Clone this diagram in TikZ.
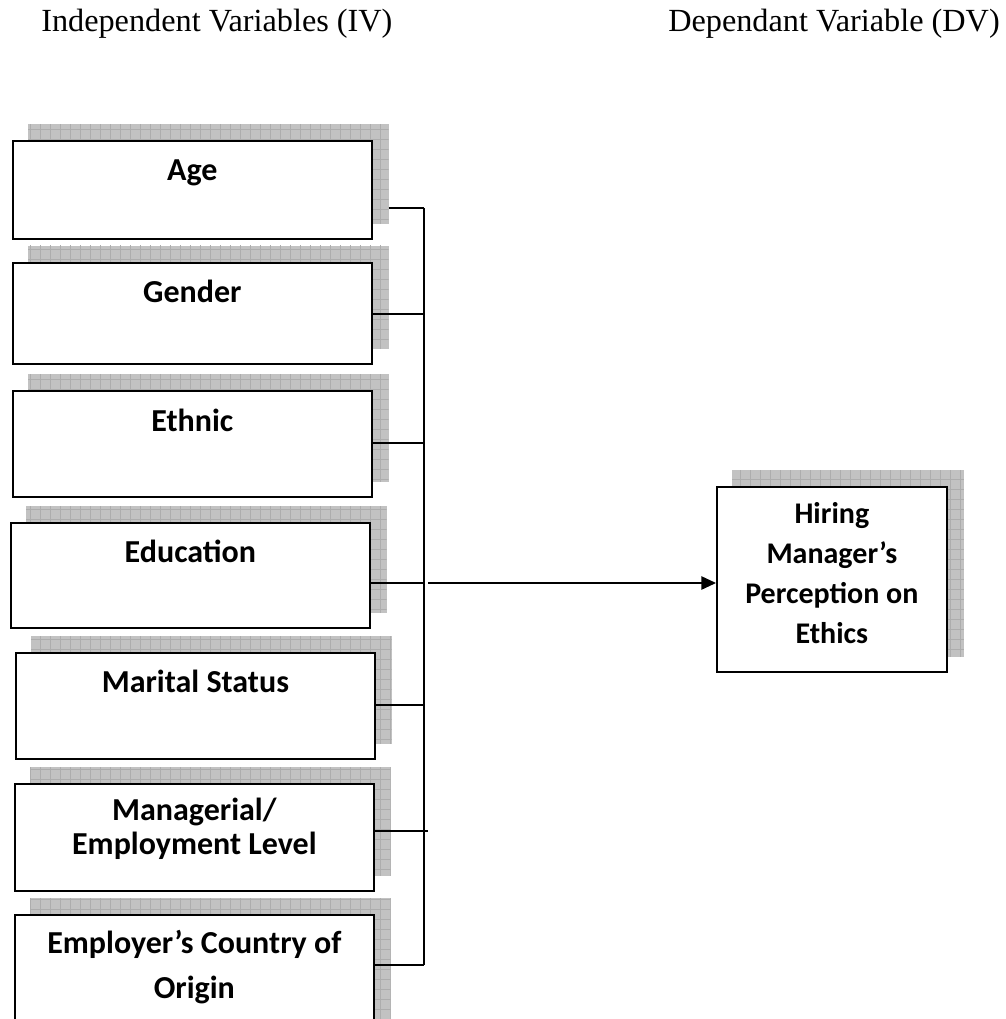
\documentclass[tikz,border=0pt]{standalone}
\usepackage{fontspec}
\setmainfont{Liberation Serif}
\newfontfamily\boxfont{Carlito}
\usetikzlibrary{positioning,arrows.meta,backgrounds,patterns.meta}

\tikzset{
    varbox/.style={draw, line width=1.3pt, fill=white, anchor=north west,
        minimum width=269.25pt, inner sep=0pt},
    vartext/.style={font=\boxfont\bfseries\fontsize{24}{25.5}\selectfont,
        align=center, inner sep=0pt, anchor=base},
    heading/.style={font=\fontsize{24.2}{28}\selectfont, inner sep=0pt, anchor=base west},
    shade/.style={fill=black!24,
        postaction={pattern={Lines[angle=0,distance=7.5pt,line width=0.5pt]}, pattern color=black!32},
        postaction={pattern={Lines[angle=90,distance=7.5pt,line width=0.5pt]}, pattern color=black!32}},
    link/.style={line width=1.2pt}
}

\begin{document}
\begin{tikzpicture}[x=0.75pt,y=-0.75pt]
    \useasboundingbox (0,0) rectangle (1005,1019);
    \clip (0,0) rectangle (1005,1019);

    \node[heading] (ivtitle) at (41,32) {Independent Variables (IV)};
    \node[heading] (dvtitle) at (668,32) {Dependant Variable (DV)};

    \foreach \name/\x/\y/\h in {age/12/140/98, gender/12/262/101, ethnic/12/390/106,
            education/10/522/105, marital/15/652/106, managerial/14/783/107,
            employer/14/914/120} {
        \node[varbox, minimum height=\h*0.75pt] (\name) at (\x,\y) {};
    }
    \node[varbox, minimum width=172.5pt, minimum height=138.75pt] (dv) at (716,486) {};

    \begin{scope}[on background layer]
        \foreach \name in {age,gender,ethnic,education,marital,managerial,employer,dv} {
            \fill[shade] ([shift={(12pt,12pt)}]\name.south west)
                rectangle ([shift={(12pt,12pt)}]\name.north east);
        }
    \end{scope}

    \node[vartext] (agetext) at ([yshift=-30.75pt]age.north) {Age};
    \node[vartext] (gendertext) at ([yshift=-30.75pt]gender.north) {Gender};
    \node[vartext] (ethnictext) at ([yshift=-30.75pt]ethnic.north) {Ethnic};
    \node[vartext] (educationtext) at ([yshift=-30pt]education.north) {Education};
    \node[vartext] (maritaltext) at ([yshift=-30pt]marital.north) {Marital Status};
    \node[vartext] (managerialtext) at ([yshift=-53.25pt]managerial.north)
        {Managerial/\\Employment Level};
    \node[vartext, font=\boxfont\bfseries\fontsize{24}{33.75}\selectfont] (employertext)
        at ([yshift=-63pt]employer.north) {Employer’s Country of\\Origin};
    \node[vartext, font=\boxfont\bfseries\fontsize{22.5}{30}\selectfont] (dvtext)
        at ([yshift=-117.75pt]dv.north) {Hiring\\Manager’s\\Perception on\\Ethics};

    \foreach \name/\y in {age/208, gender/314, ethnic/443, education/583,
            marital/705, managerial/831, employer/965} {
        \coordinate (\name-in) at (424,\y);
    }
    \draw[link] ([xshift=12pt]age-in -| age.east) -- (age-in);
    \foreach \name in {gender,ethnic,education,marital,employer} {
        \draw[link] (\name-in -| \name.east) -- (\name-in);
    }
    \draw[link] (managerial-in -| managerial.east) -- ([xshift=3pt]managerial-in);
    \draw[link] (age-in) -- (employer-in);
    \draw[link, -{Triangle[length=11pt,width=10pt]}] ([xshift=3pt]education-in)
        -- (dv.west |- education-in);
\end{tikzpicture}
\end{document}
